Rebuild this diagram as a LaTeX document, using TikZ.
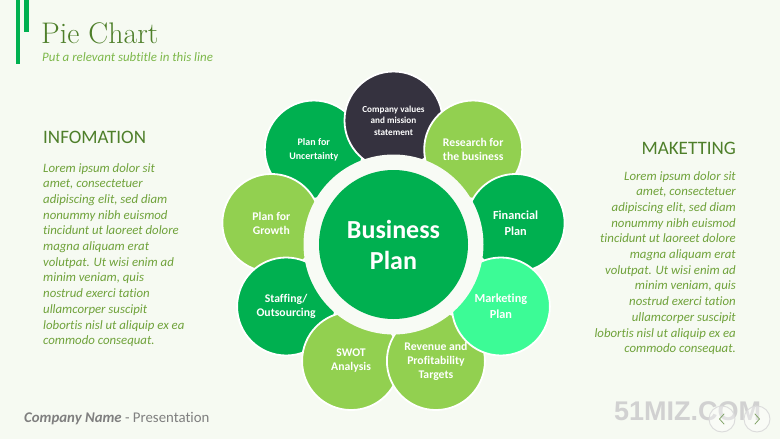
\documentclass[tikz,border=0pt]{standalone}
\usepackage{fontspec}
\newfontfamily\carlito[Ligatures={NoCommon,NoRare}]{Carlito}
\newfontfamily\libsans{Liberation Sans}
\usetikzlibrary{calc}
\definecolor{bg}{HTML}{F6FAF2}
\definecolor{ringc}{HTML}{F8FBF5}
\definecolor{dgreen}{HTML}{00B050}
\definecolor{lgreen}{HTML}{92D050}
\definecolor{mint}{HTML}{3CFB96}
\definecolor{darkp}{HTML}{35323F}
\definecolor{olive}{HTML}{4E7F2A}
\definecolor{bodyg}{HTML}{6FA23A}
\definecolor{subg}{HTML}{7DB84A}
\definecolor{barg}{HTML}{00B050}
\definecolor{footg}{HTML}{7F7F7F}
\tikzset{
  petal/.style={circle, minimum size=98pt, inner sep=0pt, draw=white, line width=1.8pt,
    text=white, align=center, font=\carlito\bfseries\fontsize{11.7}{14}\selectfont},
  bodytext/.style={inner sep=0pt, text=bodyg, font=\carlito\itshape\fontsize{12.8}{15.7}\selectfont},
  heading/.style={inner sep=0pt, text=olive, font=\carlito\fontsize{19}{22}\selectfont},
  navbtn/.style={circle, minimum size=26pt, inner sep=0pt, draw=black!14, line width=0.9pt, fill=white, fill opacity=0.35},
  chev/.style={draw=olive!70, line width=0.8pt, line cap=round, line join=round}
}
\begin{document}
\begin{tikzpicture}[x=1pt,y=-1pt]
\fill[bg] (0,0) rectangle (780,439);
\useasboundingbox (0,0) rectangle (780,439);
% left bars
\fill[barg] (15.7,0) rectangle (20,64);
\fill[barg] (24.3,0) rectangle (28.7,32);
% title
\node[anchor=base west, inner sep=0pt, text=olive, font=\fontsize{29.8}{32}\selectfont] (title) at (41,43.3) {Pie Chart};
\node[anchor=base west, inner sep=0pt, text=subg, font=\carlito\itshape\fontsize{12.9}{15}\selectfont] (subtitle) at (42,61.5) {Put a relevant subtitle in this line};
% headings
\node[heading, anchor=base west] (infoh) at (43,143) {INFOMATION};
\node[heading, anchor=base east] (markh) at (736,154) {MAKETTING};
% body texts
\node[bodytext, anchor=north west, align=left] (infob) at (43,163) {Lorem ipsum dolor sit\\amet, consectetuer\\adipiscing elit, sed diam\\nonummy nibh euismod\\tincidunt ut laoreet dolore\\magna aliquam erat\\volutpat. Ut wisi enim ad\\minim veniam, quis\\nostrud exerci tation\\ullamcorper suscipit\\lobortis nisl ut aliquip ex ea\\commodo consequat.};
\node[bodytext, anchor=north east, align=right] (markb) at (736,171) {Lorem ipsum dolor sit\\amet, consectetuer\\adipiscing elit, sed diam\\nonummy nibh euismod\\tincidunt ut laoreet dolore\\magna aliquam erat\\volutpat. Ut wisi enim ad\\minim veniam, quis\\nostrud exerci tation\\ullamcorper suscipit\\lobortis nisl ut aliquip ex ea\\commodo consequat.};
% diagram
\coordinate (C) at (393.5,244.5);
\node[petal, fill=dgreen, font=\carlito\bfseries\fontsize{10}{14}\selectfont] (unc) at ($(C)+(-130:124)$) {Plan for\\Uncertainty};
\node[petal, fill=darkp, font=\carlito\bfseries\fontsize{9.2}{11.5}\selectfont] (comp) at ($(C)+(-90:124)$) {Company values\\and mission\\statement};
\node[petal, fill=lgreen] (res) at ($(C)+(-50:124)$) {Research for\\the business};
\node[petal, fill=dgreen, font=\carlito\bfseries\fontsize{12.3}{16}\selectfont] (fin) at ($(C)+(-10:124)$) {Financial\\Plan};
\node[petal, fill=lgreen] (grow) at ($(C)+(190:124)$) {Plan for\\Growth};
\node[petal, fill=dgreen] (staff) at ($(C)+(150:124)$) {Staffing/\\Outsourcing};
\node[petal, fill=lgreen] (swot) at ($(C)+(110:124)$) {SWOT\\Analysis};
\node[petal, fill=lgreen] (rev) at ($(C)+(70:124)$) {Revenue and\\Profitability\\Targets};
\node[petal, fill=mint, font=\carlito\bfseries\fontsize{12.3}{16}\selectfont] (mkt) at ($(C)+(30:124)$) {Marketing\\Plan};
\node[circle, minimum size=180pt, inner sep=0pt, fill=ringc] (ring) at (C) {};
\node[circle, minimum size=149pt, inner sep=0pt, fill=dgreen, text=white, align=center,
  font=\carlito\bfseries\fontsize{26}{31}\selectfont] (bp) at (C) {Business\\Plan};
% footer
\node[anchor=base west, inner sep=0pt, text=footg, font=\carlito\fontsize{14.8}{16}\selectfont] (foot) at (24,422.5) {\textbf{\textit{Company Name}} - Presentation};
\node[anchor=base west, inner sep=0pt, text=black!18, font=\libsans\bfseries\fontsize{27}{30}\selectfont] (wm) at (614,420) {51MIZ.COM};
\node[navbtn] (prev) at (722,419) {};
\node[navbtn] (next) at (757,419) {};
\draw[chev] ($(prev.center)+(2,-5)$) -- ($(prev.center)+(-2.5,0)$) -- ($(prev.center)+(2,5)$);
\draw[chev] ($(next.center)+(-2,-5)$) -- ($(next.center)+(2.5,0)$) -- ($(next.center)+(-2,5)$);
\end{tikzpicture}
\end{document}
